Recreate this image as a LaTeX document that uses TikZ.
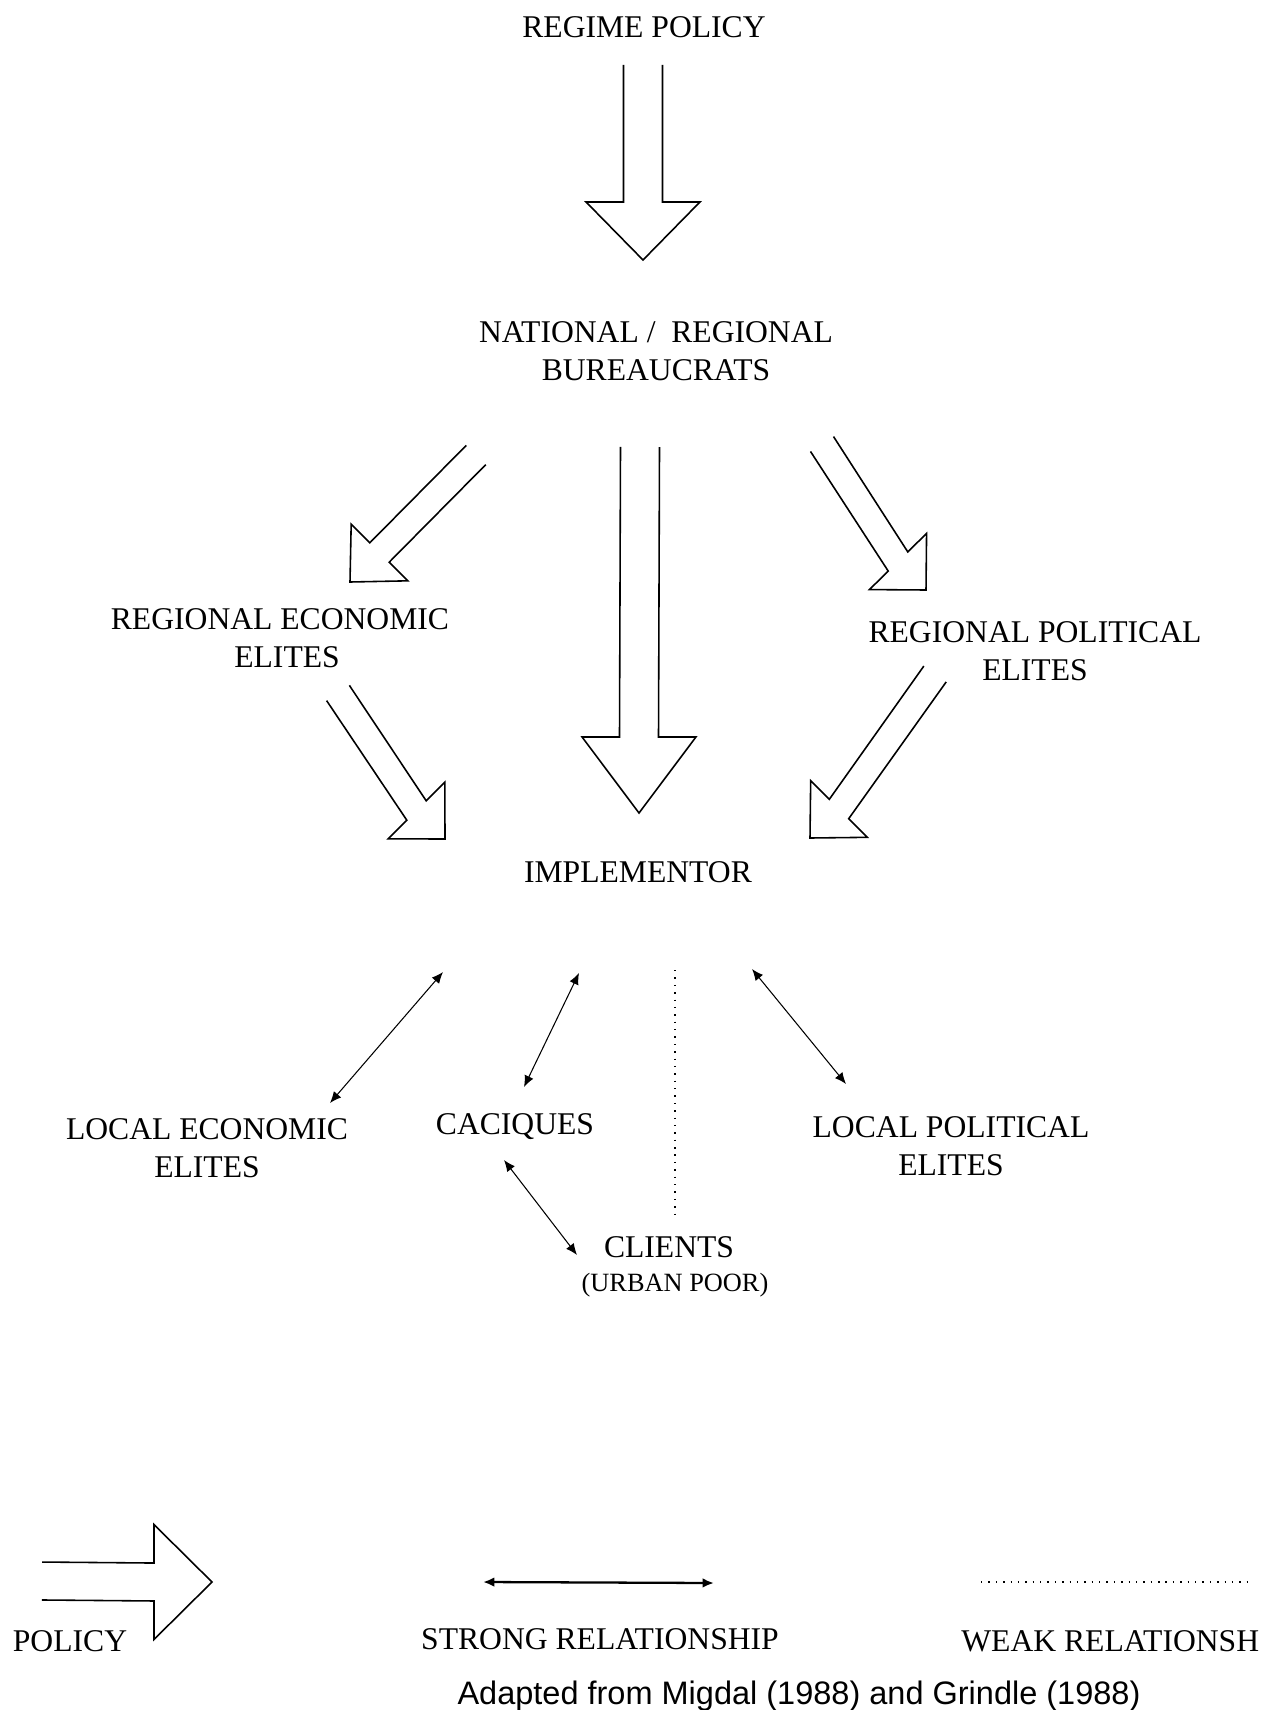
\documentclass[tikz,border=0pt]{standalone}
\usepackage{fontspec}
\setmainfont{Liberation Serif}
\newfontfamily\sourcefont{Liberation Sans}
\usetikzlibrary{calc,arrows.meta}

% open block arrow: tail, head base, tip, half shaft width, half head width
\newcommand{\policyarrow}[5]{%
  \path[draw,policyline] ($(#1)!#4!90:(#2)$) -- ($(#2)!#4!90:(#3)$) -- ($(#2)!#5!90:(#3)$) -- (#3)
    -- ($(#2)!#5!-90:(#3)$) -- ($(#2)!#4!-90:(#3)$) -- ($(#1)!#4!-90:(#2)$);
}

\begin{document}
\begin{tikzpicture}[x=0.02cm,y=-0.02cm,
  txt/.style={font=\fontsize{18}{21.8}\selectfont,align=center,inner sep=0pt},
  policyline/.style={line width=0.9pt},
  strongrel/.style={line width=0.6pt,{Latex[length=6.5pt,width=5.5pt]}-{Latex[length=6.5pt,width=5.5pt]}},
  weakrel/.style={line width=0.8pt,dash pattern=on 0.8pt off 3.4pt}]
\useasboundingbox (0,0) rectangle (1270,1710);

\node[txt,anchor=base] (regime) at (644,37.5) {REGIME POLICY};
\node[txt] (bureau) at (656,351.5) {NATIONAL / \ REGIONAL\\BUREAUCRATS};
\node[txt] (regecon) at (280,638) {REGIONAL ECONOMIC\\\hspace*{8pt}ELITES};
\node[txt] (regpol) at (1035,651) {REGIONAL POLITICAL\\ELITES};
\node[txt,anchor=base] (impl) at (638,882.5) {IMPLEMENTOR};
\node[txt] (locecon) at (207,1148) {LOCAL ECONOMIC\\ELITES};
\node[txt,anchor=base] (caciques) at (515,1134.5) {CACIQUES};
\node[txt] (locpol) at (951,1146.5) {LOCAL POLITICAL\\ELITES};
\node[txt,anchor=base] (clients) at (669,1257.5) {CLIENTS};
\node[txt,anchor=base,font=\fontsize{15}{18}\selectfont] (urban) at (675,1291.7) {(URBAN POOR)};

% policy arrows
\coordinate (top-a) at (643,65);    \coordinate (top-h) at (643,202);    \coordinate (top-b) at (643,260);
\coordinate (mid-a) at (640,447);   \coordinate (mid-h) at (639,737);    \coordinate (mid-b) at (639,813);
\coordinate (ul-a) at (476,455);    \coordinate (ul-h) at (379.5,552.5); \coordinate (ul-b) at (350,582);
\coordinate (ll-a) at (338,693);    \coordinate (ll-h) at (416.5,810.5); \coordinate (ll-b) at (445,839);
\coordinate (ur-a) at (822,444);    \coordinate (ur-h) at (898,561.5);   \coordinate (ur-b) at (926,590);
\coordinate (lr-a) at (935,674);    \coordinate (lr-h) at (839,809);     \coordinate (lr-b) at (810,838);
\policyarrow{top-a}{top-h}{top-b}{11.1pt}{32.4pt}
\policyarrow{mid-a}{mid-h}{mid-b}{11.1pt}{32.4pt}
\policyarrow{ul-a}{ul-h}{ul-b}{7.8pt}{22.8pt}
\policyarrow{ll-a}{ll-h}{ll-b}{7.8pt}{22.8pt}
\policyarrow{ur-a}{ur-h}{ur-b}{7.8pt}{22.8pt}
\policyarrow{lr-a}{lr-h}{lr-b}{7.8pt}{22.8pt}

% relationships
\coordinate (r1a) at (443,972);  \coordinate (r1b) at (330,1103);
\coordinate (r2a) at (579,973);  \coordinate (r2b) at (524,1087);
\coordinate (r3a) at (752,969);  \coordinate (r3b) at (846,1084);
\coordinate (r4a) at (504,1160); \coordinate (r4b) at (577,1255);
\path[draw,strongrel] (r1a) -- (r1b);
\path[draw,strongrel] (r2a) -- (r2b);
\path[draw,strongrel] (r3a) -- (r3b);
\path[draw,strongrel] (r4a) -- (r4b);
\coordinate (w1a) at (675,970);  \coordinate (w1b) at (675,1217);
\path[draw,weakrel] (w1a) -- (w1b);

% legend
\coordinate (lp-a) at (42,1581);   \coordinate (lp-h) at (154,1582);  \coordinate (lp-b) at (212,1582);
\policyarrow{lp-a}{lp-h}{lp-b}{10.8pt}{32.7pt}
\coordinate (ls-a) at (483,1582);  \coordinate (ls-b) at (714,1583);
\path[draw,strongrel,line width=1.3pt] (ls-a) -- (ls-b);
\coordinate (lw-a) at (981,1582);  \coordinate (lw-b) at (1251,1582);
\path[draw,weakrel] (lw-a) -- (lw-b);
\node[txt,anchor=base] (legpolicy) at (70,1651.5) {POLICY};
\node[txt,anchor=base] (legstrong) at (600,1649.5) {STRONG RELATIONSHIP};
\node[txt,anchor=base west] (legweak) at (961,1651) {WEAK RELATIONSH};
\node[txt,anchor=base,font=\sourcefont\fontsize{18.5}{22}\selectfont] (source) at (799,1704.5) {Adapted from Migdal (1988) and Grindle (1988)};
\end{tikzpicture}
\end{document}
